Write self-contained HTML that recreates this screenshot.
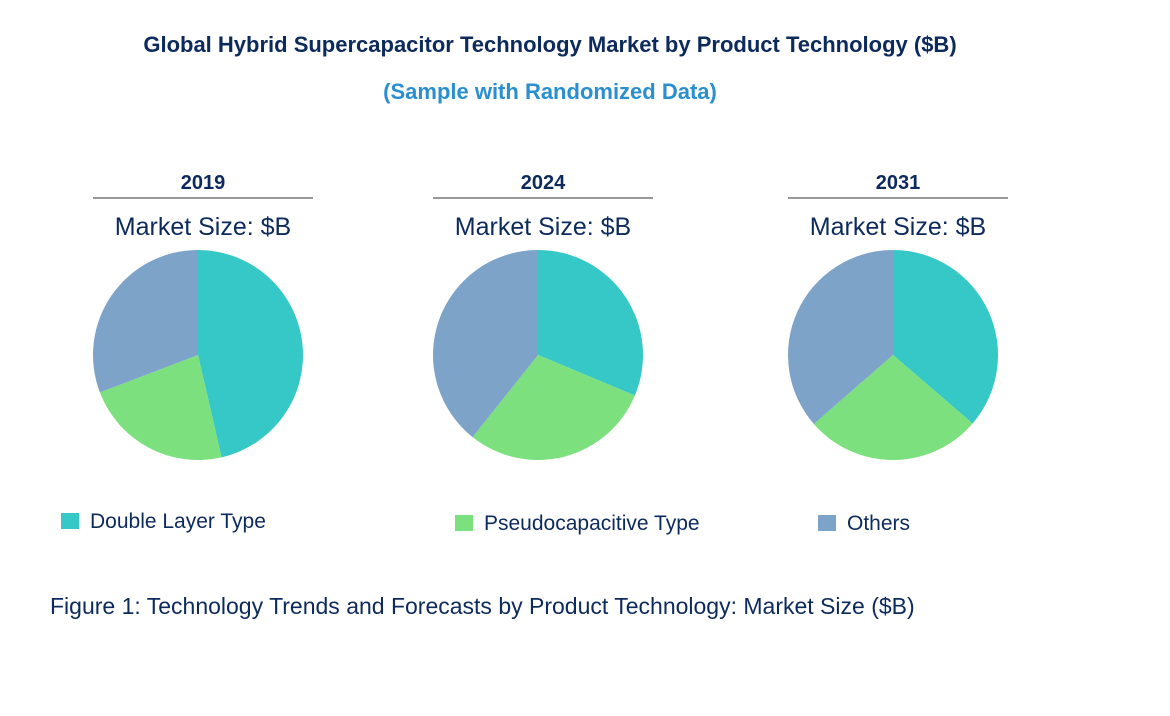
<!DOCTYPE html>
<html><head><meta charset="utf-8"><style>
body{margin:0;background:#fff;width:1170px;height:711px;overflow:hidden;font-family:"Liberation Sans",Arial,sans-serif;}
</style></head><body>
<svg width="1170" height="711">
<text x="550" y="52" text-anchor="middle" font-size="22" font-weight="bold" fill="#0d2a5c">Global Hybrid Supercapacitor Technology Market by Product Technology ($B)</text>
<text x="550" y="99" text-anchor="middle" font-size="22" font-weight="bold" fill="#2a8fd0">(Sample with Randomized Data)</text>
<g id="pies"></g>
<g>
<rect x="61" y="513" width="18" height="16" fill="#36c8c6"/>
<text x="90" y="528" font-size="21" fill="#0d2a5c">Double Layer Type</text>
<rect x="455" y="515" width="18" height="16" fill="#7ce07e"/>
<text x="484" y="530" font-size="21" fill="#0d2a5c">Pseudocapacitive Type</text>
<rect x="818" y="515" width="18" height="16" fill="#7ea3c8"/>
<text x="847" y="530" font-size="21" fill="#0d2a5c">Others</text>
</g>
<text x="50" y="614" font-size="23" fill="#0d2a5c">Figure 1: Technology Trends and Forecasts by Product Technology: Market Size ($B)</text>
</svg>
<script>
const years = ["2019","2024","2031"];
const doubleLayer = [46.4, 31.3, 36.3];
const pseudo = [22.8, 29.4, 27.3];
const others = [30.8, 39.3, 36.4];
const seriesNames = ["double-layer","pseudocapacitive","others"];
const colors = ["#36c8c6","#7ce07e","#7ea3c8"];
const centersX = [198, 538, 893];
const lineHalf = [110, 115, 113];
const g = document.getElementById('pies');
const NS = "http://www.w3.org/2000/svg";
function mk(t, a){const e=document.createElementNS(NS,t);for(const k in a)e.setAttribute(k,a[k]);g.appendChild(e);return e;}
const cy = 355, r = 105;
years.forEach((y,i)=>{
  const cx = centersX[i];
  const t = mk('text',{x:cx+5,y:189,'text-anchor':'middle','font-size':20,'font-weight':'bold',fill:'#0d2a5c'});
  t.textContent = y;
  
  
  const l = mk('line',{x1:cx-105,x2:cx+115,y1:198,y2:198,stroke:'#333','stroke-width':1});
  
  
  const m = mk('text',{x:cx+5,y:235,'text-anchor':'middle','font-size':25,fill:'#0d2a5c'});
  m.textContent = 'Market Size: $B';
  
  
  const vals = [doubleLayer[i], pseudo[i], others[i]];
  const tot = vals.reduce((a,b)=>a+b,0);
  let a0 = 0;
  vals.forEach((v,j)=>{
    const a1 = a0 + v/tot*2*Math.PI;
    const x0=cx+r*Math.sin(a0), y0=cy-r*Math.cos(a0), x1=cx+r*Math.sin(a1), y1=cy-r*Math.cos(a1);
    const large = (a1-a0)>Math.PI?1:0;
    const p = mk('path',{d:`M${cx},${cy} L${x0},${y0} A${r},${r} 0 ${large} 1 ${x1},${y1} Z`,fill:colors[j]});
    
    
    a0 = a1;
  });
});
</script>
</body></html>
